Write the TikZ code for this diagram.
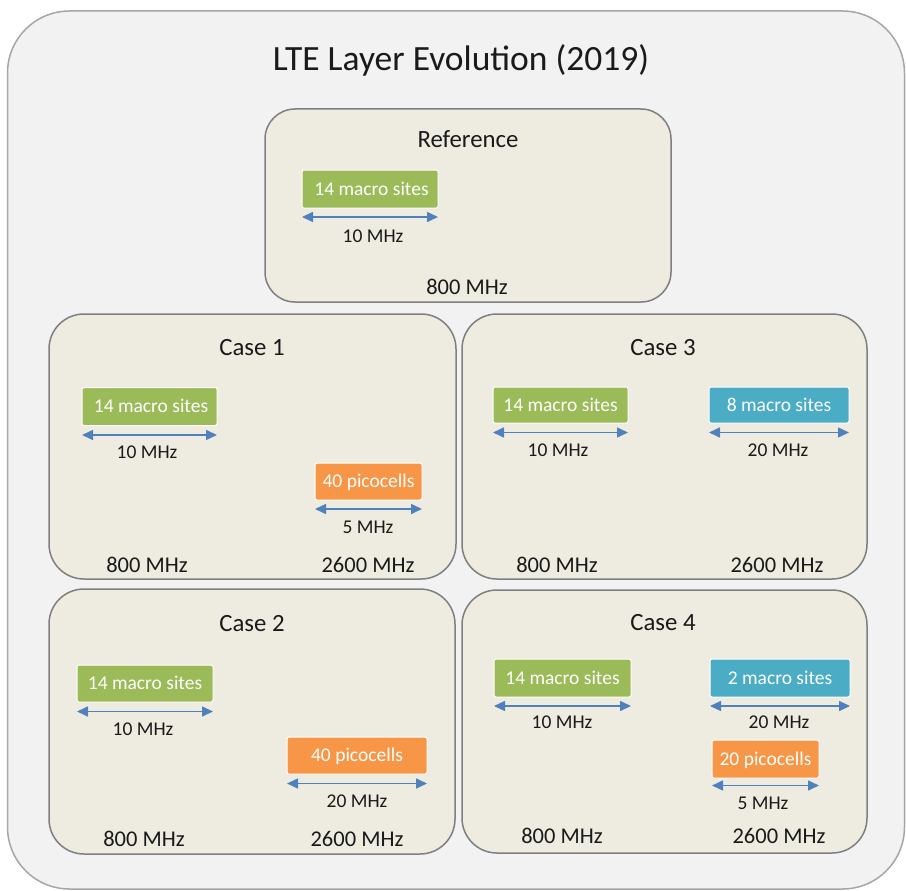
\documentclass[tikz,border=0pt]{standalone}
\usepackage{fontspec}
\setmainfont{Carlito}
\usetikzlibrary{arrows.meta}
\definecolor{outerfill}{HTML}{F2F2F2}
\definecolor{outerline}{HTML}{A6A6A6}
\definecolor{panelfill}{HTML}{EEECE1}
\definecolor{panelline}{HTML}{7F7F7F}
\definecolor{lgreen}{HTML}{9BBB59}
\definecolor{lorange}{HTML}{F79646}
\definecolor{lblue}{HTML}{4BACC6}
\definecolor{arrowblue}{HTML}{4F81BD}
\definecolor{txt}{HTML}{1A1A1A}
\tikzset{
  frame/.style={draw=outerline, fill=outerfill, line width=1.5pt, rounded corners=62pt,
    anchor=north west, inner sep=0pt, outer sep=0pt},
  panel/.style={draw=panelline, fill=panelfill, line width=1.5pt, rounded corners=35pt,
    anchor=north west, inner sep=0pt, outer sep=0pt},
  maintitle/.style={font=\fontsize{35.5}{40}\selectfont, text=txt, inner sep=0pt,
    text height=22.8pt, text depth=0pt},
  paneltitle/.style={font=\fontsize{24.8}{28}\selectfont, text=txt, inner sep=0pt,
    text height=15.9pt, text depth=0pt},
  bandlbl/.style={font=\fontsize{22.5}{26}\selectfont, text=txt, inner sep=0pt,
    text height=14.4pt, text depth=0pt},
  widthlbl/.style={font=\fontsize{19.5}{23}\selectfont, text=txt, inner sep=0pt,
    text height=12.5pt, text depth=0pt},
  layerbox/.style={draw=white, line width=1pt, rounded corners=2pt, text=white,
    font=\fontsize{19.5}{23}\selectfont, inner sep=0pt, outer sep=0pt,
    minimum height=38pt, text height=12.5pt, text depth=0pt},
  dim/.style={draw=arrowblue, line width=1.6pt,
    {Triangle[length=11pt,width=10pt]}-{Triangle[length=11pt,width=10pt]}},
}
\begin{document}
\begin{tikzpicture}[x=1pt, y=-1pt]
\useasboundingbox (0,0) rectangle (906,891);
% outer frame
\node[frame, minimum width=897pt, minimum height=878pt] (frame) at (7.5,11) {};
\node[maintitle] (title) at (461,59) {LTE Layer Evolution (2019)};

% ---------- Reference ----------
\node[panel, minimum width=406pt, minimum height=193pt, rounded corners=30pt] (ref) at (265,109) {};
\node[paneltitle] (reft) at (468,140) {Reference};
\node[layerbox, fill=lgreen, minimum width=136pt] (refg) at (370,189) {\hspace{3pt}14 macro sites};
\draw[dim] ([yshift=-9pt]refg.south west) -- ([yshift=-9pt]refg.south east);
\node[widthlbl] (refw) at (373,236) {10 MHz};
\node[bandlbl] (refb) at (467,287) {800 MHz};

% ---------- Case 1 ----------
\node[panel, minimum width=407pt, minimum height=265pt] (c1) at (49,314) {};
\node[paneltitle] (c1t) at (252,348) {Case 1};
\node[layerbox, fill=lgreen, minimum width=135pt] (c1g) at (149.5,406.5) {\hspace{3pt}14 macro sites};
\draw[dim] ([yshift=-9.5pt]c1g.south west) -- ([yshift=-9.5pt]c1g.south east);
\node[widthlbl] (c1gw) at (147,452) {10 MHz};
\node[layerbox, fill=lorange, minimum width=107pt, minimum height=37pt] (c1o) at (368.5,481.5) {40 picocells};
\draw[dim] ([yshift=-9pt]c1o.south west) -- ([yshift=-9pt]c1o.south east);
\node[widthlbl] (c1ow) at (368,527) {5 MHz};
\node[bandlbl] (c1b1) at (147,565) {800 MHz};
\node[bandlbl] (c1b2) at (368,565) {2600 MHz};

% ---------- Case 3 ----------
\node[panel, minimum width=405pt, minimum height=265pt] (c3) at (462,314) {};
\node[paneltitle] (c3t) at (663,348) {Case 3};
\node[layerbox, fill=lgreen, minimum width=135pt, minimum height=36pt] (c3g) at (560.5,405) {14 macro sites};
\draw[dim] ([yshift=-9.5pt]c3g.south west) -- ([yshift=-9.5pt]c3g.south east);
\node[widthlbl] (c3gw) at (558,450) {10 MHz};
\node[layerbox, fill=lblue, minimum width=140pt, minimum height=36pt] (c3b) at (779,405) {8 macro sites};
\draw[dim] ([yshift=-9.5pt]c3b.south west) -- ([yshift=-9.5pt]c3b.south east);
\node[widthlbl] (c3bw) at (778,450) {20 MHz};
\node[bandlbl] (c3b1) at (557,565) {800 MHz};
\node[bandlbl] (c3b2) at (777,565) {2600 MHz};

% ---------- Case 2 ----------
\node[panel, minimum width=406pt, minimum height=265pt] (c2) at (49,589) {};
\node[paneltitle] (c2t) at (252,624) {Case 2};
\node[layerbox, fill=lgreen, minimum width=136pt, minimum height=37pt] (c2g) at (145,683.5) {14 macro sites};
\draw[dim] ([yshift=-9.5pt]c2g.south west) -- ([yshift=-9.5pt]c2g.south east);
\node[widthlbl] (c2gw) at (143,729) {10 MHz};
\node[layerbox, fill=lorange, minimum width=140pt, minimum height=37pt] (c2o) at (357,755.5) {40 picocells};
\draw[dim] ([yshift=-9.5pt]c2o.south west) -- ([yshift=-9.5pt]c2o.south east);
\node[widthlbl] (c2ow) at (357,801) {20 MHz};
\node[bandlbl] (c2b1) at (144,839) {800 MHz};
\node[bandlbl] (c2b2) at (357,839) {2600 MHz};

% ---------- Case 4 ----------
\node[panel, minimum width=405pt, minimum height=263pt] (c4) at (462,590) {};
\node[paneltitle] (c4t) at (663,623) {Case 4};
\node[layerbox, fill=lgreen, minimum width=137pt] (c4g) at (562.5,678) {14 macro sites};
\draw[dim] ([yshift=-9pt]c4g.south west) -- ([yshift=-9pt]c4g.south east);
\node[widthlbl] (c4gw) at (562,722) {10 MHz};
\node[layerbox, fill=lblue, minimum width=140pt] (c4b) at (780,678) {2 macro sites};
\draw[dim] ([yshift=-9pt]c4b.south west) -- ([yshift=-9pt]c4b.south east);
\node[widthlbl] (c4bw) at (779,722) {20 MHz};
\node[layerbox, fill=lorange, minimum width=107pt] (c4o) at (765.5,759) {20 picocells};
\draw[dim] ([yshift=-7.5pt]c4o.south west) -- ([yshift=-7.5pt]c4o.south east);
\node[widthlbl] (c4ow) at (763,803) {5 MHz};
\node[bandlbl] (c4b1) at (562,836) {800 MHz};
\node[bandlbl] (c4b2) at (779,836) {2600 MHz};
\end{tikzpicture}
\end{document}
